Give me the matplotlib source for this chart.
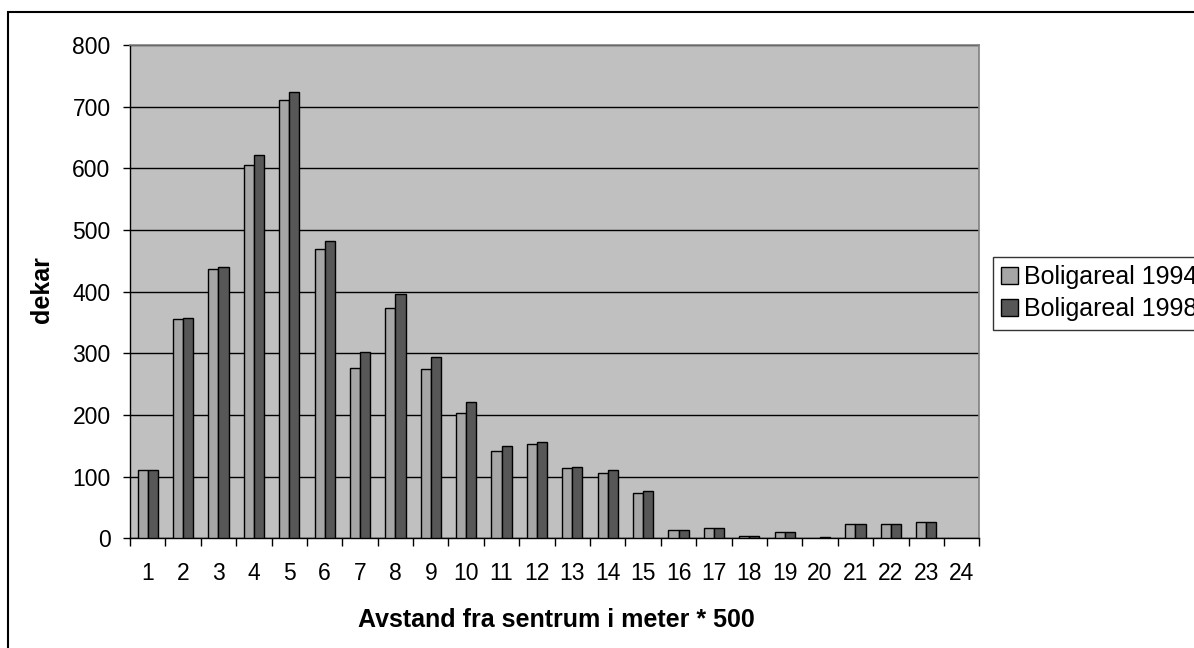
import matplotlib
matplotlib.use("Agg")
import matplotlib.pyplot as plt
from matplotlib.patches import Rectangle
import numpy as np

plt.rcParams['font.family'] = ['Liberation Sans', 'DejaVu Sans']

# Boligareal (dekar) per avstandssone fra sentrum
zones = list(range(1, 25))
areal_1994 = [111, 355, 437, 605, 711, 469, 276, 374, 275, 204, 141, 153,
              114, 106, 73, 14, 16, 4, 10, 0, 24, 24, 27, 0]
areal_1998 = [111, 358, 440, 622, 723, 482, 302, 396, 294, 221, 149, 156,
              116, 110, 77, 14, 16, 4, 10, 2, 24, 24, 27, 0]
series_labels = ['Boligareal 1994', 'Boligareal 1998']
yticks = list(range(0, 900, 100))

W, H = 1194, 648
fig = plt.figure(figsize=(W / 100, H / 100), dpi=100)
fig.patch.set_facecolor('white')

left, right, top, bottom = 130 / W, 979.3 / W, 1 - 45 / H, 1 - 538.3 / H
ax = fig.add_axes([left, bottom, right - left, top - bottom])
ax.set_facecolor('#c0c0c0')

x = np.arange(1, len(zones) + 1)
bw = 1 / 3.5
b1 = ax.bar(x - bw / 2, areal_1994, width=bw, color='#a6a6a6',
            edgecolor='black', linewidth=1, zorder=3, label=series_labels[0])
b2 = ax.bar(x + bw / 2, areal_1998, width=bw, color='#575757',
            edgecolor='black', linewidth=1, zorder=3, label=series_labels[1])
# empty zones get no outline
for bars, vals in ((b1, areal_1994), (b2, areal_1998)):
    for patch, v in zip(bars, vals):
        if v == 0:
            patch.set_linewidth(0)

ax.set_xlim(0.5, len(zones) + 0.5)
ax.set_ylim(0, 800)
ax.set_yticks(yticks)
ax.yaxis.grid(True, color='black', linewidth=1, zorder=1)
ax.set_axisbelow(True)

ax.set_xticks(x)
ax.set_xticklabels([str(z) for z in zones])
ax.set_xticks(np.arange(0.5, len(zones) + 1, 1), minor=True)
ax.tick_params(axis='x', which='major', length=0, pad=17, labelsize=16.5)
ax.tick_params(axis='x', which='minor', length=5.8, width=1, direction='out')
ax.tick_params(axis='y', length=5, width=1, direction='out', pad=9, labelsize=16.5)

for side in ('top', 'right'):
    ax.spines[side].set_color('#808080')
    ax.spines[side].set_linewidth(1.2)
for side in ('left', 'bottom'):
    ax.spines[side].set_color('black')
    ax.spines[side].set_linewidth(1)

fig.text(556.7 / W, 1 - 626.7 / H, 'Avstand fra sentrum i meter * 500',
         ha='center', va='baseline', fontsize=18, fontweight='bold')
fig.text(42 / W, 1 - 290 / H, 'dekar', rotation=90, ha='center', va='center',
         fontsize=18, fontweight='bold')

leg = fig.legend(handles=[b1, b2], labels=series_labels,
                 loc='upper left', bbox_to_anchor=(992.7 / W, 1 - 256.7 / H),
                 bbox_transform=fig.transFigure, fontsize=18, frameon=True,
                 fancybox=False, edgecolor='black', borderpad=0.35,
                 handlelength=0.65, handleheight=0.65, handletextpad=0.25,
                 labelspacing=0.3, borderaxespad=0)
leg.get_frame().set_linewidth(1)

# chart frame around the whole figure
fig.add_artist(Rectangle((8 / W, -0.2), 1.5, 0.2 + (1 - 12 / H),
                         transform=fig.transFigure, fill=False,
                         edgecolor='black', linewidth=1.5))

fig.savefig('out.png', dpi=100)
